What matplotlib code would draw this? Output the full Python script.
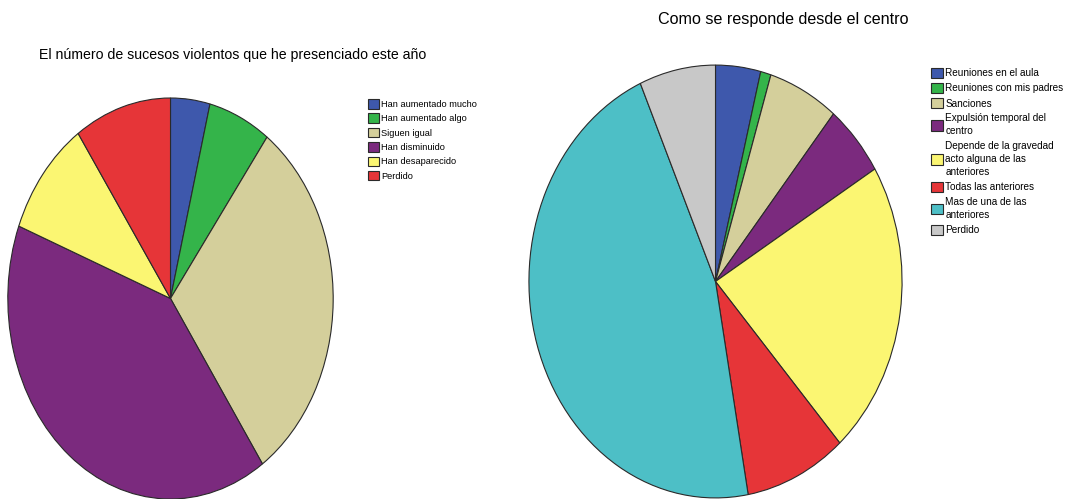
import matplotlib
matplotlib.use("Agg")
import matplotlib.pyplot as plt

plt.rcParams['font.family'] = ['Liberation Sans', 'DejaVu Sans']

W, H = 1069, 499

# ---- Data ----
left_title = "El número de sucesos violentos que he presenciado este año"
left_labels = ["Han aumentado mucho", "Han aumentado algo", "Siguen igual",
               "Han disminuido", "Han desaparecido", "Perdido"]
left_values = [3.9, 6.2, 30.3, 40.4, 9.5, 9.6]
left_colors = ["#3E58AC", "#34B44A", "#D4CF9B", "#7B2A7E", "#FBF672", "#E63538"]

right_title = "Como se responde desde el centro"
right_labels = ["Reuniones en el aula", "Reuniones con mis padres", "Sanciones",
                "Expulsión temporal del\ncentro",
                "Depende de la gravedad\nacto alguna de las\nanteriores",
                "Todas las anteriores", "Mas de una de las\nanteriores", "Perdido"]
right_values = [3.9, 0.9, 6.1, 5.4, 22.1, 8.8, 46.2, 6.6]
right_colors = ["#3E58AC", "#34B44A", "#D4CF9B", "#7B2A7E", "#FBF672",
                "#E63538", "#4DBFC6", "#C8C8C8"]

fig = plt.figure(figsize=(W / 100, H / 100), dpi=100)
fig.patch.set_facecolor("white")


def px_axes(x0, y0, x1, y1):
    return fig.add_axes([x0 / W, 1 - y1 / H, (x1 - x0) / W, (y1 - y0) / H])


def draw_pie(ax, values, colors):
    wedges, _ = ax.pie(values, colors=colors, startangle=90, counterclock=False,
                       radius=1.0,
                       wedgeprops=dict(edgecolor="#2a2a2a", linewidth=0.8))
    ax.set_aspect('auto')
    ax.set_xlim(-1.005, 1.005)
    ax.set_ylim(-1.005, 1.005)
    ax.axis('off')
    return wedges


axL = px_axes(7, 97, 334, 500)
wl = draw_pie(axL, left_values, left_colors)

axR = px_axes(528, 64, 903, 499)
wr = draw_pie(axR, right_values, right_colors)

fig.text(39 / W, 1 - 55 / H, left_title, ha='left', va='center', fontsize=10.2, color='black')
fig.text(658 / W, 1 - 19.5 / H, right_title, ha='left', va='center', fontsize=11.6, color='black')

legL = fig.legend(wl, left_labels, loc='upper left',
                  bbox_to_anchor=(368 / W, 1 - 99 / H), bbox_transform=fig.transFigure,
                  frameon=False, fontsize=6.7, handlelength=1.2, handleheight=1.2,
                  handletextpad=0.2, labelspacing=0.48, borderpad=0, borderaxespad=0)

legR = fig.legend(wr, right_labels, loc='upper left',
                  bbox_to_anchor=(930.5 / W, 1 - 67.5 / H), bbox_transform=fig.transFigure,
                  frameon=False, fontsize=7.2, handlelength=1.2, handleheight=1.2,
                  handletextpad=0.28, labelspacing=0.48, borderpad=0, borderaxespad=0)
for t in legR.get_texts():
    t.set_linespacing(1.36)
for leg in (legL, legR):
    for p in leg.get_patches():
        p.set_linewidth(0.8)

fig.savefig("out.png", dpi=100)
